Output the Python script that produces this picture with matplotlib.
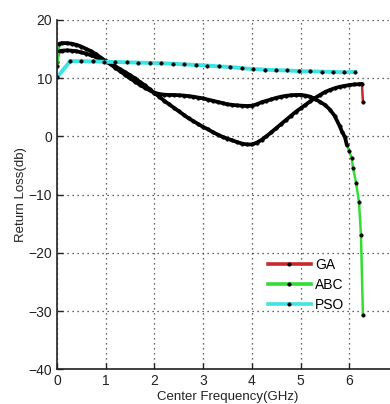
import matplotlib
matplotlib.use("Agg")
import matplotlib.pyplot as plt

plt.rcParams['font.family'] = ['Liberation Sans', 'DejaVu Sans']

ga_x = [0.0, 0.05, 0.1, 0.2, 0.3, 0.4, 0.5, 0.6, 0.7, 0.8, 0.9, 1.0,
        1.1, 1.2, 1.3, 1.4, 1.5, 1.6, 1.7, 1.8, 1.9, 2.0,
        2.1, 2.2, 2.3, 2.4, 2.5, 2.6, 2.7, 2.8, 2.9, 3.0,
        3.1, 3.2, 3.3, 3.4, 3.5, 3.6, 3.7, 3.8, 3.9, 4.0,
        4.1, 4.2, 4.3, 4.4, 4.5, 4.6, 4.7, 4.8, 4.9, 5.0,
        5.1, 5.2, 5.3, 5.4, 5.5, 5.6, 5.7, 5.8, 5.9, 6.0,
        6.1, 6.2, 6.26, 6.28]
ga_y = [12.8, 14.6, 14.7, 14.75, 14.7, 14.6, 14.4, 14.2, 13.9, 13.6, 13.25, 12.9,
        12.5, 12.0, 11.5, 11.0, 10.5, 9.95, 9.35, 8.75, 8.1, 7.4,
        6.8, 6.1, 5.5, 4.9, 4.3, 3.7, 3.1, 2.6, 2.1, 1.6,
        1.2, 0.7, 0.3, -0.1, -0.4, -0.7, -1.0, -1.25, -1.4, -1.4,
        -1.1, -0.6, 0.0, 0.7, 1.4, 2.1, 2.8, 3.5, 4.2, 4.8,
        5.4, 6.0, 6.6, 7.1, 7.6, 7.95, 8.25, 8.5, 8.65, 8.8,
        8.9, 8.95, 9.0, 5.9]

abc_x = [0.0, 0.05, 0.1, 0.2, 0.3, 0.4, 0.5, 0.6, 0.7, 0.8, 0.9, 1.0,
         1.1, 1.2, 1.3, 1.4, 1.5, 1.6, 1.7, 1.8, 1.9, 2.0,
         2.1, 2.2, 2.3, 2.4, 2.5, 2.6, 2.7, 2.8, 2.9, 3.0,
         3.1, 3.2, 3.3, 3.4, 3.5, 3.6, 3.7, 3.8, 3.9, 4.0,
         4.1, 4.2, 4.3, 4.4, 4.5, 4.6, 4.7, 4.8, 4.9, 5.0,
         5.1, 5.2, 5.3, 5.4, 5.5, 5.6, 5.7, 5.8, 5.85, 5.91,
         5.95, 6.0, 6.05, 6.08, 6.14, 6.2, 6.24, 6.28]
abc_y = [12.0, 15.9, 16.0, 16.0, 15.9, 15.7, 15.4, 15.0, 14.6, 14.1, 13.5, 12.9,
         12.35, 11.75, 11.15, 10.55, 9.95, 9.4, 8.85, 8.35, 7.9, 7.5,
         7.25, 7.15, 7.1, 7.1, 7.05, 7.0, 6.9, 6.8, 6.65, 6.5,
         6.3, 6.1, 5.9, 5.7, 5.5, 5.4, 5.3, 5.25, 5.2, 5.25,
         5.5, 5.85, 6.1, 6.35, 6.6, 6.8, 6.95, 7.05, 7.1, 7.1,
         7.0, 6.8, 6.4, 5.9, 5.4, 4.6, 3.5, 1.8, 0.8, -0.1,
         -1.5, -2.6, -3.8, -5.5, -8.0, -11.3, -17.0, -30.7]

pso_x = [0.0, 0.27, 0.5, 0.74, 0.97, 1.2, 1.44, 1.67, 1.91, 2.14, 2.38,
         2.61, 2.85, 3.08, 3.32, 3.55, 3.79, 4.02, 4.26, 4.49, 4.73,
         4.96, 5.2, 5.43, 5.67, 5.9, 6.12]
pso_y = [10.1, 12.9, 12.9, 12.85, 12.8, 12.75, 12.7, 12.65, 12.6, 12.55, 12.45,
         12.35, 12.25, 12.15, 12.0, 11.9, 11.7, 11.55, 11.45, 11.35, 11.3,
         11.2, 11.15, 11.1, 11.05, 11.0, 11.05]

x_ticks = [0, 1, 2, 3, 4, 5, 6]
y_ticks = [-40, -30, -20, -10, 0, 10, 20]

fig = plt.figure(figsize=(3.9, 4.04), dpi=100)
ax = fig.add_axes([57 / 390, (404 - 369.3) / 404, 341 / 390, (369.3 - 19.8) / 404])

mk = dict(marker='.', markerfacecolor='black', markeredgecolor='black', markeredgewidth=0.4)
ax.plot(ga_x, ga_y, color='#c8282a', label='GA', linewidth=1.8, markersize=5, **mk)
ax.plot(abc_x, abc_y, color='#33dd33', label='ABC', linewidth=1.8, markersize=5, **mk)
# densely sampled stretches where the dots merge into a solid black trace
ax.plot(ga_x[1:-1], ga_y[1:-1], color='black', linewidth=2.7, solid_capstyle='round')
ax.plot(abc_x[1:63], abc_y[1:63], color='black', linewidth=2.7, solid_capstyle='round')
ax.plot(pso_x, pso_y, color='#3fe3e3', label='PSO', linewidth=2.8, markersize=5, **mk)

ax.set_xlim(0, 7)
ax.set_ylim(-40, 20)
ax.set_xticks(x_ticks)
ax.set_yticks(y_ticks)
ax.tick_params(direction='in', length=4, width=1, labelsize=10, colors='#222222')
ax.grid(True, linestyle=(0, (1, 3)), color='#333333', linewidth=0.9)
for s in ['top', 'right']:
    ax.spines[s].set_visible(False)
for s in ['left', 'bottom']:
    ax.spines[s].set_linewidth(1.2)
    ax.spines[s].set_color('#222222')

ax.set_xlabel('Center Frequency(GHz)', fontsize=9.5, labelpad=2, color='#222222')
ax.set_ylabel('Return Loss(db)', fontsize=9.5, labelpad=1, color='#222222')

leg = fig.legend(handles=[ax.lines[0], ax.lines[1], ax.lines[4]],
                 loc='upper left', bbox_to_anchor=(262 / 390, 1 - 252 / 404),
                 frameon=False, fontsize=10, handlelength=3.1, labelspacing=0.45,
                 handletextpad=0.3, borderaxespad=0)
for h in leg.get_lines():
    h.set_markersize(5)
    h.set_linewidth(2.6)

fig.savefig('out.png', dpi=100)
